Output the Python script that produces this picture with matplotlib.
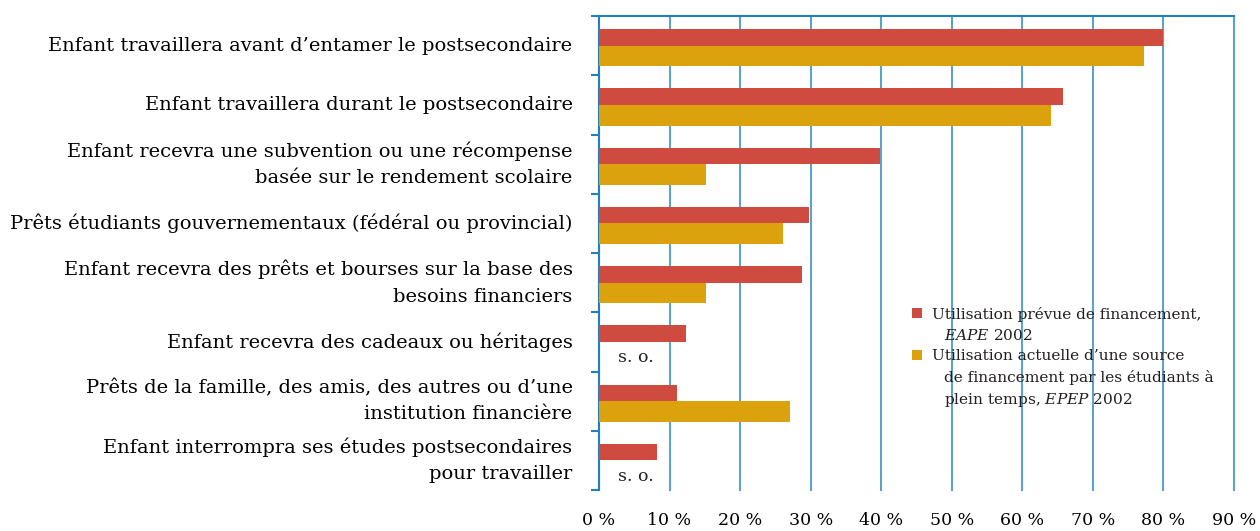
#!/usr/bin/env python3

import numpy as np
from matplotlib import pyplot as plt
from matplotlib.patches import Rectangle


categories = [
    "Enfant travaillera avant d\u2019entamer le postsecondaire",
    "Enfant travaillera durant le postsecondaire",
    "Enfant recevra une subvention ou une récompense\nbasée sur le rendement scolaire",
    "Prêts étudiants gouvernementaux (fédéral ou provincial)",
    "Enfant recevra des prêts et bourses sur la base des\nbesoins financiers",
    "Enfant recevra des cadeaux ou héritages",
    "Prêts de la famille, des amis, des autres ou d\u2019une\ninstitution financière",
    "Enfant interrompra ses études postsecondaires\npour travailler",
]
# planned use (EAPE 2002) and actual use (EPEP 2002), in %
eape = [80, 65.7, 39.8, 29.7, 28.8, 12.3, 11.0, 8.2]
epep = [77.2, 64.0, 15.2, 26.1, 15.2, None, 27.1, None]

# legend entries: first line, then the indented continuation lines
legend_entries = [
    ["Utilisation prévue de financement,",
     "$\\mathit{EAPE}$ 2002"],
    ["Utilisation actuelle d\u2019une source",
     "de financement par les étudiants à",
     "plein temps, $\\mathit{EPEP}$ 2002"],
]
xticks = np.arange(0, 91, 10)
xticklabels = [f"{v} %" for v in xticks]

red = "#CF4A3F"
yellow = "#DBA20E"
grid_blue = "#5BA3C9"
axis_blue = "#2580BA"
text_col = "#231F20"

plt.rcParams['font.family'] = ['DejaVu Serif']
plt.rcParams['mathtext.fontset'] = 'custom'
plt.rcParams['mathtext.rm'] = 'DejaVu Serif'
plt.rcParams['mathtext.it'] = 'DejaVu Serif:italic'
plt.rcParams['text.color'] = text_col

W, H = 1260, 531
fig = plt.figure(figsize=(W / 100, H / 100), dpi=100)
ax = fig.add_axes([599 / W, 1 - 490 / H, 635 / W, 474 / H])

y = np.arange(len(categories))
ax.barh(y - 0.14, eape, height=0.28, color=red, zorder=3)
for yi, v in zip(y, epep):
    if v is None:
        ax.text(5.2, yi + 0.27, "s. o.", ha='center', va='center', fontsize=12.5, zorder=3)
    else:
        ax.barh(yi + 0.175, v, height=0.35, color=yellow, zorder=3)

ax.set_xlim(0, 90)
ax.set_ylim(len(categories) - 0.5, -0.5)

ax.set_xticks(xticks)
ax.set_xticklabels(xticklabels, fontsize=12.5)
ax.tick_params(axis='x', length=0, pad=16)
ax.grid(axis='x', color=grid_blue, linewidth=1.5, zorder=0)
for gl in ax.get_xgridlines():
    gl.set_clip_on(False)

ax.set_yticks(np.arange(-0.5, len(categories)), labels=[])
ax.set_yticks(y, labels=categories, minor=True)
ax.tick_params(axis='y', which='major', length=6, width=1.5, color=axis_blue)
ax.tick_params(axis='y', which='minor', length=0, pad=19, labelsize=14)
for lbl in ax.get_yticklabels(minor=True):
    lbl.set_linespacing(1.6)
    lbl.set_va('center')

for side in ['right', 'bottom']:
    ax.spines[side].set_visible(False)
for side in ['left', 'top']:
    ax.spines[side].set_color(axis_blue)
    ax.spines[side].set_linewidth(1.5)

# legend drawn by hand: white box hiding the grid, square keys, hanging indent
def axx(px):
    return (px - 599) / 635


def axy(py):
    return (490 - py) / 474


ax.add_patch(Rectangle((axx(885), axy(437)), axx(1230) - axx(885), axy(276) - axy(437),
                       transform=ax.transAxes, facecolor='white', edgecolor='none',
                       zorder=1, clip_on=False))
line_h = 21.5
row = 313
for colour, lines in zip([red, yellow], legend_entries):
    ax.add_patch(Rectangle((axx(912), axy(row + 5)), 10 / 635, 10 / 474,
                           transform=ax.transAxes, facecolor=colour, edgecolor='none',
                           zorder=4, clip_on=False))
    for k, line in enumerate(lines):
        ax.text(axx(932 if k == 0 else 944), axy(row), line, transform=ax.transAxes,
                fontsize=11.1, ha='left', va='center_baseline', zorder=4)
        row += line_h
    row -= 1.5

fig.savefig("out.png", dpi=100)
